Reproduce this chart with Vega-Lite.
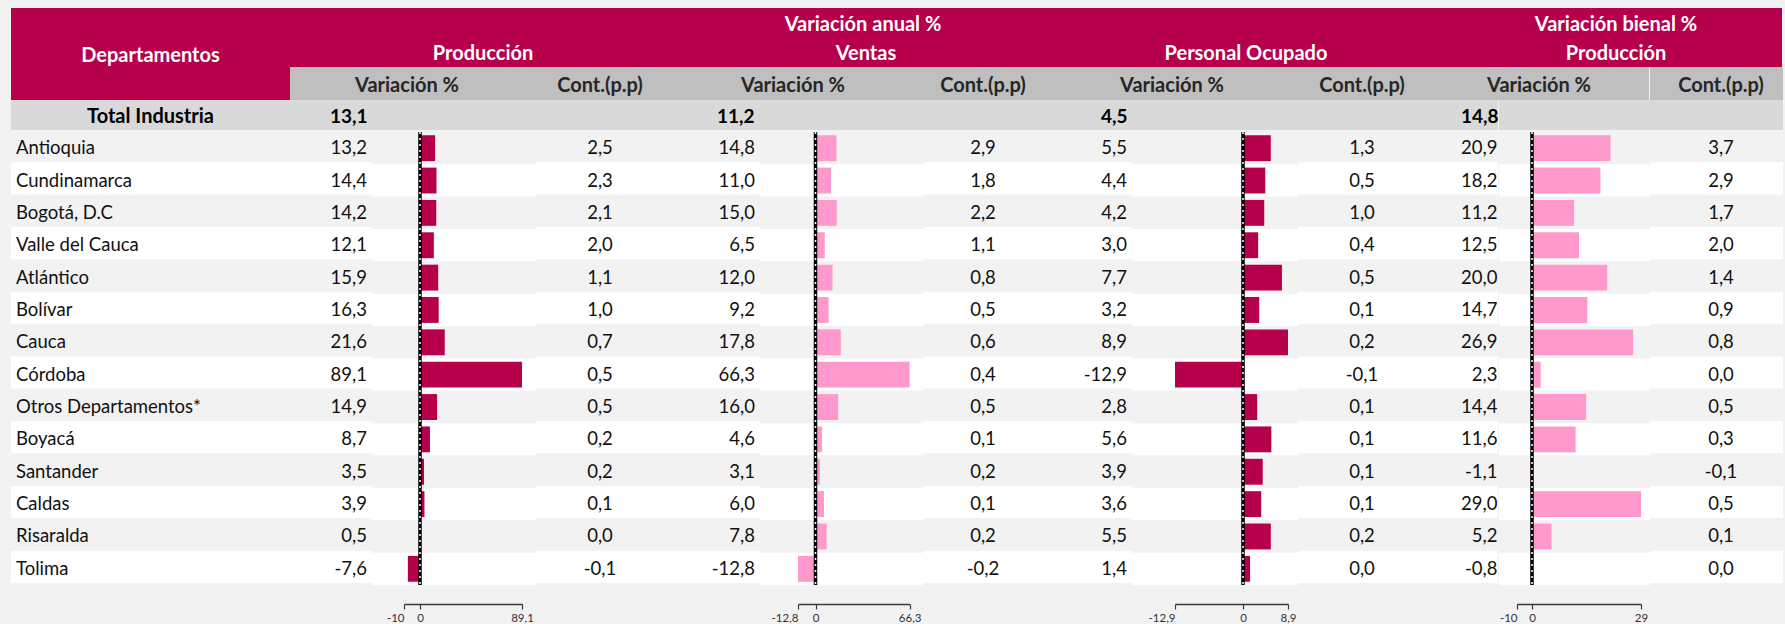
{
"$schema": "https://vega.github.io/schema/vega-lite/v6.json",
"background": "#F2F2F2",
"padding": {"left": 11, "top": 8, "right": 3, "bottom": 0},
"config": {
  "view": {"stroke": null},
  "concat": {"spacing": 0},
  "font": "Lato",
  "text": {"dy": 2},
  "axis": {"labelFontSize": 11.5, "labelAlign": {"condition": {"test": "datum.value < 0", "value": "right"}, "value": "center"}},
  "locale": {"number": {"decimal": ",", "thousands": ".", "grouping": [3], "currency": ["$", ""], "minus": "-"}}
},
"datasets": {
  "rows": [
    {"dep":"Antioquia","prod_v":13.2,"prod_c":2.5,"ven_v":14.8,"ven_c":2.9,"per_v":5.5,"per_c":1.3,"bie_v":20.9,"bie_c":3.7},
    {"dep":"Cundinamarca","prod_v":14.4,"prod_c":2.3,"ven_v":11.0,"ven_c":1.8,"per_v":4.4,"per_c":0.5,"bie_v":18.2,"bie_c":2.9},
    {"dep":"Bogotá, D.C","prod_v":14.2,"prod_c":2.1,"ven_v":15.0,"ven_c":2.2,"per_v":4.2,"per_c":1.0,"bie_v":11.2,"bie_c":1.7},
    {"dep":"Valle del Cauca","prod_v":12.1,"prod_c":2.0,"ven_v":6.5,"ven_c":1.1,"per_v":3.0,"per_c":0.4,"bie_v":12.5,"bie_c":2.0},
    {"dep":"Atlántico","prod_v":15.9,"prod_c":1.1,"ven_v":12.0,"ven_c":0.8,"per_v":7.7,"per_c":0.5,"bie_v":20.0,"bie_c":1.4},
    {"dep":"Bolívar","prod_v":16.3,"prod_c":1.0,"ven_v":9.2,"ven_c":0.5,"per_v":3.2,"per_c":0.1,"bie_v":14.7,"bie_c":0.9},
    {"dep":"Cauca","prod_v":21.6,"prod_c":0.7,"ven_v":17.8,"ven_c":0.6,"per_v":8.9,"per_c":0.2,"bie_v":26.9,"bie_c":0.8},
    {"dep":"Córdoba","prod_v":89.1,"prod_c":0.5,"ven_v":66.3,"ven_c":0.4,"per_v":-12.9,"per_c":-0.1,"bie_v":2.3,"bie_c":0.0},
    {"dep":"Otros Departamentos*","prod_v":14.9,"prod_c":0.5,"ven_v":16.0,"ven_c":0.5,"per_v":2.8,"per_c":0.1,"bie_v":14.4,"bie_c":0.5},
    {"dep":"Boyacá","prod_v":8.7,"prod_c":0.2,"ven_v":4.6,"ven_c":0.1,"per_v":5.6,"per_c":0.1,"bie_v":11.6,"bie_c":0.3},
    {"dep":"Santander","prod_v":3.5,"prod_c":0.2,"ven_v":3.1,"ven_c":0.2,"per_v":3.9,"per_c":0.1,"bie_v":-1.1,"bie_c":-0.1},
    {"dep":"Caldas","prod_v":3.9,"prod_c":0.1,"ven_v":6.0,"ven_c":0.1,"per_v":3.6,"per_c":0.1,"bie_v":29.0,"bie_c":0.5},
    {"dep":"Risaralda","prod_v":0.5,"prod_c":0.0,"ven_v":7.8,"ven_c":0.2,"per_v":5.5,"per_c":0.2,"bie_v":5.2,"bie_c":0.1},
    {"dep":"Tolima","prod_v":-7.6,"prod_c":-0.1,"ven_v":-12.8,"ven_c":-0.2,"per_v":1.4,"per_c":0.0,"bie_v":-0.8,"bie_c":0.0}
  ],
  "total": [{"dep":"Total Industria","prod_v":13.1,"ven_v":11.2,"per_v":4.5,"bie_v":14.8}]
},
"spacing": 0,
"hconcat": [
  {"spacing": 0, "vconcat": [
    {"width": 279, "height": 92, "view": {"fill": "#B6004B", "stroke": null}, "data": {"values": [{"t": "Departamentos"}]}, "mark": {"type": "text", "color": "#FFFFFF", "fontWeight": "bold", "fontSize": 20}, "encoding": {"text": {"field": "t"}}},
    {"width": 279, "height": 30, "view": {"fill": "#D9D9D9", "stroke": null}, "data": {"name": "total"}, "mark": {"type": "text", "color": "#000000", "fontWeight": "bold", "fontSize": 20}, "encoding": {"text": {"field": "dep"}}},
    {"width": 279, "height": 453, "data": {"name": "rows"}, "transform": [{"window": [{"op": "row_number", "as": "rn"}]}],
     "encoding": {"y": {"field": "dep", "type": "nominal", "sort": null, "axis": null, "scale": {"paddingInner": 0, "paddingOuter": 0}}},
     "layer": [
       {"mark": {"type": "rect"}, "encoding": {"fill": {"condition": {"test": "datum.rn % 2 == 1", "value": "#F2F2F2"}, "value": "#FFFFFF"}}},
       {"mark": {"type": "text", "align": "left", "dx": -134.5, "fontSize": 18.5, "color": "#111111"}, "encoding": {"text": {"field": "dep"}}}
     ]}
  ]},
  {"spacing": 0, "vconcat": [
    {"width": 1146, "height": 29, "view": {"fill": "#B6004B", "stroke": null}, "data": {"values": [{"t": "Variación anual %"}]}, "mark": {"type": "text", "color": "#FFFFFF", "fontWeight": "bold", "fontSize": 20}, "encoding": {"text": {"field": "t"}}},
    {"spacing": 0, "hconcat": [
      {"spacing": 0, "vconcat": [
        {"width": 386, "height": 30, "view": {"fill": "#B6004B", "stroke": null}, "data": {"values": [{"t": "Producción"}]}, "mark": {"type": "text", "color": "#FFFFFF", "fontWeight": "bold", "fontSize": 20}, "encoding": {"text": {"field": "t"}}},
        {"spacing": 0, "hconcat": [
          {"spacing": 0, "vconcat": [
            {"width": 246, "height": 33, "view": {"fill": "#BFBFBF", "stroke": null}, "data": {"values": [{"t": "Variación %"}]}, "mark": {"type": "text", "dx": -6, "color": "#262626", "fontWeight": "bold", "fontSize": 20}, "encoding": {"text": {"field": "t"}}},
            {"spacing": 0, "hconcat": [
              {"spacing": 0, "vconcat": [
                {"width": 82, "height": 30, "view": {"fill": "#D9D9D9", "stroke": null}, "data": {"name": "total"}, "mark": {"type": "text", "align": "left", "dx": -1, "color": "#000000", "fontWeight": "bold", "fontSize": 19}, "encoding": {"text": {"field": "prod_v", "type": "quantitative", "format": ".1f"}}},
                {"width": 82, "height": 453, "data": {"name": "rows"}, "transform": [{"window": [{"op": "row_number", "as": "rn"}]}],
                 "encoding": {"y": {"field": "dep", "type": "nominal", "sort": null, "axis": null, "scale": {"paddingInner": 0, "paddingOuter": 0}}},
                 "layer": [
                   {"mark": {"type": "rect"}, "encoding": {"fill": {"condition": {"test": "datum.rn % 2 == 1", "value": "#F2F2F2"}, "value": "#FFFFFF"}}},
                   {"mark": {"type": "text", "align": "right", "dx": 36, "fontSize": 18.5, "color": "#111111"}, "encoding": {"text": {"field": "prod_v", "type": "quantitative", "format": ".1f"}}}
                 ]}
              ]},
              {"spacing": 0, "vconcat": [
                {"width": 164, "height": 30, "view": {"fill": "#D9D9D9", "stroke": null}, "data": {"values": [{}]}, "mark": {"type": "text"}, "encoding": {"text": {"value": ""}}},
                {"width": 164, "height": 453, "data": {"name": "rows"}, "transform": [{"window": [{"op": "row_number", "as": "rn"}]}],
                 "layer": [
                   {"mark": {"type": "rect"}, "encoding": {"y": {"field": "dep", "type": "nominal", "sort": null, "axis": null, "scale": {"paddingInner": 0, "paddingOuter": 0}}, "fill": {"condition": {"test": "datum.rn % 2 == 1", "value": "#F2F2F2"}, "value": "#FFFFFF"}}},
                   {"mark": {"type": "bar", "color": "#B6004B", "height": {"band": 0.8}}, "encoding": {
                     "y": {"field": "dep", "type": "nominal", "sort": null, "axis": null},
                     "x": {"field": "prod_v", "type": "quantitative", "scale": {"domain": [-10, 0, 89.1], "range": [32, 48, 150], "nice": false, "zero": false},
                           "axis": {"values": [-10, 0, 89.1], "format": ".1~f", "title": null, "grid": false, "offset": 19, "tickSize": 5, "labelPadding": 3, "labelOverlap": false, "labelFlush": false, "domainColor": "#3A3A3A", "tickColor": "#3A3A3A", "labelColor": "#333333", "domainWidth": 1.5, "tickWidth": 1.2}},
                     "x2": {"datum": 0}}},
                   {"data": {"values": [{}]}, "mark": {"type": "rule", "color": "#000000", "strokeWidth": 3.5}, "encoding": {"x": {"datum": 0}}},
                   {"data": {"values": [{}]}, "mark": {"type": "rule", "color": "#FFFFFF", "strokeWidth": 1.5, "strokeDash": [2, 4]}, "encoding": {"x": {"datum": 0}}}
                 ]}
              ]}
            ]}
          ]},
          {"spacing": 0, "vconcat": [
            {"width": 140, "height": 33, "view": {"fill": "#BFBFBF", "stroke": null}, "data": {"values": [{"t": "Cont.(p.p)"}]}, "mark": {"type": "text", "dx": -6, "color": "#262626", "fontWeight": "bold", "fontSize": 20}, "encoding": {"text": {"field": "t"}}},
            {"width": 140, "height": 30, "view": {"fill": "#D9D9D9", "stroke": null}, "data": {"values": [{}]}, "mark": {"type": "text"}, "encoding": {"text": {"value": ""}}},
            {"width": 140, "height": 453, "data": {"name": "rows"}, "transform": [{"window": [{"op": "row_number", "as": "rn"}]}],
             "encoding": {"y": {"field": "dep", "type": "nominal", "sort": null, "axis": null, "scale": {"paddingInner": 0, "paddingOuter": 0}}},
             "layer": [
               {"mark": {"type": "rect"}, "encoding": {"fill": {"condition": {"test": "datum.rn % 2 == 1", "value": "#F2F2F2"}, "value": "#FFFFFF"}}},
               {"mark": {"type": "text", "dx": -6, "fontSize": 18.5, "color": "#111111"}, "encoding": {"text": {"field": "prod_c", "type": "quantitative", "format": ".1f"}}}
             ]}
          ]}
        ]}
      ]},
      {"spacing": 0, "vconcat": [
        {"width": 380, "height": 30, "view": {"fill": "#B6004B", "stroke": null}, "data": {"values": [{"t": "Ventas"}]}, "mark": {"type": "text", "color": "#FFFFFF", "fontWeight": "bold", "fontSize": 20}, "encoding": {"text": {"field": "t"}}},
        {"spacing": 0, "hconcat": [
          {"spacing": 0, "vconcat": [
            {"width": 247, "height": 33, "view": {"fill": "#BFBFBF", "stroke": null}, "data": {"values": [{"t": "Variación %"}]}, "mark": {"type": "text", "dx": -6.5, "color": "#262626", "fontWeight": "bold", "fontSize": 20}, "encoding": {"text": {"field": "t"}}},
            {"spacing": 0, "hconcat": [
              {"spacing": 0, "vconcat": [
                {"width": 84, "height": 30, "view": {"fill": "#D9D9D9", "stroke": null}, "data": {"name": "total"}, "mark": {"type": "text", "align": "left", "dx": -1, "color": "#000000", "fontWeight": "bold", "fontSize": 19}, "encoding": {"text": {"field": "ven_v", "type": "quantitative", "format": ".1f"}}},
                {"width": 84, "height": 453, "data": {"name": "rows"}, "transform": [{"window": [{"op": "row_number", "as": "rn"}]}],
                 "encoding": {"y": {"field": "dep", "type": "nominal", "sort": null, "axis": null, "scale": {"paddingInner": 0, "paddingOuter": 0}}},
                 "layer": [
                   {"mark": {"type": "rect"}, "encoding": {"fill": {"condition": {"test": "datum.rn % 2 == 1", "value": "#F2F2F2"}, "value": "#FFFFFF"}}},
                   {"mark": {"type": "text", "align": "right", "dx": 37, "fontSize": 18.5, "color": "#111111"}, "encoding": {"text": {"field": "ven_v", "type": "quantitative", "format": ".1f"}}}
                 ]}
              ]},
              {"spacing": 0, "vconcat": [
                {"width": 163, "height": 30, "view": {"fill": "#D9D9D9", "stroke": null}, "data": {"values": [{}]}, "mark": {"type": "text"}, "encoding": {"text": {"value": ""}}},
                {"width": 163, "height": 453, "data": {"name": "rows"}, "transform": [{"window": [{"op": "row_number", "as": "rn"}]}],
                 "layer": [
                   {"mark": {"type": "rect"}, "encoding": {"y": {"field": "dep", "type": "nominal", "sort": null, "axis": null, "scale": {"paddingInner": 0, "paddingOuter": 0}}, "fill": {"condition": {"test": "datum.rn % 2 == 1", "value": "#F2F2F2"}, "value": "#FFFFFF"}}},
                   {"mark": {"type": "bar", "color": "#FF99CC", "height": {"band": 0.8}}, "encoding": {
                     "y": {"field": "dep", "type": "nominal", "sort": null, "axis": null},
                     "x": {"field": "ven_v", "type": "quantitative", "scale": {"domain": [-12.8, 0, 66.3], "range": [38, 55.5, 149.6], "nice": false, "zero": false},
                           "axis": {"values": [-12.8, 0, 66.3], "format": ".1~f", "title": null, "grid": false, "offset": 19, "tickSize": 5, "labelPadding": 3, "labelOverlap": false, "labelFlush": false, "domainColor": "#3A3A3A", "tickColor": "#3A3A3A", "labelColor": "#333333", "domainWidth": 1.5, "tickWidth": 1.2}},
                     "x2": {"datum": 0}}},
                   {"data": {"values": [{}]}, "mark": {"type": "rule", "color": "#000000", "strokeWidth": 3.5}, "encoding": {"x": {"datum": 0}}},
                   {"data": {"values": [{}]}, "mark": {"type": "rule", "color": "#FFFFFF", "strokeWidth": 1.5, "strokeDash": [2, 4]}, "encoding": {"x": {"datum": 0}}}
                 ]}
              ]}
            ]}
          ]},
          {"spacing": 0, "vconcat": [
            {"width": 133, "height": 33, "view": {"fill": "#BFBFBF", "stroke": null}, "data": {"values": [{"t": "Cont.(p.p)"}]}, "mark": {"type": "text", "dx": -6.5, "color": "#262626", "fontWeight": "bold", "fontSize": 20}, "encoding": {"text": {"field": "t"}}},
            {"width": 133, "height": 30, "view": {"fill": "#D9D9D9", "stroke": null}, "data": {"values": [{}]}, "mark": {"type": "text"}, "encoding": {"text": {"value": ""}}},
            {"width": 133, "height": 453, "data": {"name": "rows"}, "transform": [{"window": [{"op": "row_number", "as": "rn"}]}],
             "encoding": {"y": {"field": "dep", "type": "nominal", "sort": null, "axis": null, "scale": {"paddingInner": 0, "paddingOuter": 0}}},
             "layer": [
               {"mark": {"type": "rect"}, "encoding": {"fill": {"condition": {"test": "datum.rn % 2 == 1", "value": "#F2F2F2"}, "value": "#FFFFFF"}}},
               {"mark": {"type": "text", "dx": -6.5, "fontSize": 18.5, "color": "#111111"}, "encoding": {"text": {"field": "ven_c", "type": "quantitative", "format": ".1f"}}}
             ]}
          ]}
        ]}
      ]},
      {"spacing": 0, "vconcat": [
        {"width": 380, "height": 30, "view": {"fill": "#B6004B", "stroke": null}, "data": {"values": [{"t": "Personal Ocupado"}]}, "mark": {"type": "text", "color": "#FFFFFF", "fontWeight": "bold", "fontSize": 20}, "encoding": {"text": {"field": "t"}}},
        {"spacing": 0, "hconcat": [
          {"spacing": 0, "vconcat": [
            {"width": 242, "height": 33, "view": {"fill": "#BFBFBF", "stroke": null}, "data": {"values": [{"t": "Variación %"}]}, "mark": {"type": "text", "dx": -5, "color": "#262626", "fontWeight": "bold", "fontSize": 20}, "encoding": {"text": {"field": "t"}}},
            {"spacing": 0, "hconcat": [
              {"spacing": 0, "vconcat": [
                {"width": 76, "height": 30, "view": {"fill": "#D9D9D9", "stroke": null}, "data": {"name": "total"}, "mark": {"type": "text", "align": "left", "dx": 7, "color": "#000000", "fontWeight": "bold", "fontSize": 19}, "encoding": {"text": {"field": "per_v", "type": "quantitative", "format": ".1f"}}},
                {"width": 76, "height": 453, "data": {"name": "rows"}, "transform": [{"window": [{"op": "row_number", "as": "rn"}]}],
                 "encoding": {"y": {"field": "dep", "type": "nominal", "sort": null, "axis": null, "scale": {"paddingInner": 0, "paddingOuter": 0}}},
                 "layer": [
                   {"mark": {"type": "rect"}, "encoding": {"fill": {"condition": {"test": "datum.rn % 2 == 1", "value": "#F2F2F2"}, "value": "#FFFFFF"}}},
                   {"mark": {"type": "text", "align": "right", "dx": 33, "fontSize": 18.5, "color": "#111111"}, "encoding": {"text": {"field": "per_v", "type": "quantitative", "format": ".1f"}}}
                 ]}
              ]},
              {"spacing": 0, "vconcat": [
                {"width": 166, "height": 30, "view": {"fill": "#D9D9D9", "stroke": null}, "data": {"values": [{}]}, "mark": {"type": "text"}, "encoding": {"text": {"value": ""}}},
                {"width": 166, "height": 453, "data": {"name": "rows"}, "transform": [{"window": [{"op": "row_number", "as": "rn"}]}],
                 "layer": [
                   {"mark": {"type": "rect"}, "encoding": {"y": {"field": "dep", "type": "nominal", "sort": null, "axis": null, "scale": {"paddingInner": 0, "paddingOuter": 0}}, "fill": {"condition": {"test": "datum.rn % 2 == 1", "value": "#F2F2F2"}, "value": "#FFFFFF"}}},
                   {"mark": {"type": "bar", "color": "#B6004B", "height": {"band": 0.8}}, "encoding": {
                     "y": {"field": "dep", "type": "nominal", "sort": null, "axis": null},
                     "x": {"field": "per_v", "type": "quantitative", "scale": {"domain": [-12.9, 0, 8.9], "range": [43, 111, 156], "nice": false, "zero": false},
                           "axis": {"values": [-12.9, 0, 8.9], "format": ".1~f", "title": null, "grid": false, "offset": 19, "tickSize": 5, "labelPadding": 3, "labelOverlap": false, "labelFlush": false, "domainColor": "#3A3A3A", "tickColor": "#3A3A3A", "labelColor": "#333333", "domainWidth": 1.5, "tickWidth": 1.2}},
                     "x2": {"datum": 0}}},
                   {"data": {"values": [{}]}, "mark": {"type": "rule", "color": "#000000", "strokeWidth": 3.5}, "encoding": {"x": {"datum": 0}}},
                   {"data": {"values": [{}]}, "mark": {"type": "rule", "color": "#FFFFFF", "strokeWidth": 1.5, "strokeDash": [2, 4]}, "encoding": {"x": {"datum": 0}}}
                 ]}
              ]}
            ]}
          ]},
          {"spacing": 0, "vconcat": [
            {"width": 138, "height": 33, "view": {"fill": "#BFBFBF", "stroke": null}, "data": {"values": [{"t": "Cont.(p.p)"}]}, "mark": {"type": "text", "dx": -5, "color": "#262626", "fontWeight": "bold", "fontSize": 20}, "encoding": {"text": {"field": "t"}}},
            {"width": 138, "height": 30, "view": {"fill": "#D9D9D9", "stroke": null}, "data": {"values": [{}]}, "mark": {"type": "text"}, "encoding": {"text": {"value": ""}}},
            {"width": 138, "height": 453, "data": {"name": "rows"}, "transform": [{"window": [{"op": "row_number", "as": "rn"}]}],
             "encoding": {"y": {"field": "dep", "type": "nominal", "sort": null, "axis": null, "scale": {"paddingInner": 0, "paddingOuter": 0}}},
             "layer": [
               {"mark": {"type": "rect"}, "encoding": {"fill": {"condition": {"test": "datum.rn % 2 == 1", "value": "#F2F2F2"}, "value": "#FFFFFF"}}},
               {"mark": {"type": "text", "dx": -5, "fontSize": 18.5, "color": "#111111"}, "encoding": {"text": {"field": "per_c", "type": "quantitative", "format": ".1f"}}}
             ]}
          ]}
        ]}
      ]}
    ]}
  ]},
  {"spacing": 0, "vconcat": [
    {"width": 346, "height": 29, "view": {"fill": "#B6004B", "stroke": null}, "data": {"values": [{"t": "Variación bienal %"}]}, "mark": {"type": "text", "dx": 7, "color": "#FFFFFF", "fontWeight": "bold", "fontSize": 20}, "encoding": {"text": {"field": "t"}}},
    {"width": 346, "height": 30, "view": {"fill": "#B6004B", "stroke": null}, "data": {"values": [{"t": "Producción"}]}, "mark": {"type": "text", "dx": 7, "color": "#FFFFFF", "fontWeight": "bold", "fontSize": 20}, "encoding": {"text": {"field": "t"}}},
    {"spacing": 0, "hconcat": [
      {"spacing": 0, "vconcat": [
        {"width": 213, "height": 33, "view": {"fill": "#BFBFBF", "stroke": null}, "data": {"values": [{"t": "Variación %"}]}, "mark": {"type": "text", "dx": -3.5, "color": "#262626", "fontWeight": "bold", "fontSize": 20}, "encoding": {"text": {"field": "t"}}},
        {"spacing": 0, "hconcat": [
          {"spacing": 0, "vconcat": [
            {"width": 62, "height": 30, "view": {"fill": "#D9D9D9", "stroke": null}, "data": {"name": "total"}, "mark": {"type": "text", "align": "left", "dx": -6, "color": "#000000", "fontWeight": "bold", "fontSize": 19}, "encoding": {"text": {"field": "bie_v", "type": "quantitative", "format": ".1f"}}},
            {"width": 62, "height": 453, "data": {"name": "rows"}, "transform": [{"window": [{"op": "row_number", "as": "rn"}]}],
             "encoding": {"y": {"field": "dep", "type": "nominal", "sort": null, "axis": null, "scale": {"paddingInner": 0, "paddingOuter": 0}}},
             "layer": [
               {"mark": {"type": "rect"}, "encoding": {"fill": {"condition": {"test": "datum.rn % 2 == 1", "value": "#F2F2F2"}, "value": "#FFFFFF"}}},
               {"mark": {"type": "text", "align": "right", "dx": 30.5, "fontSize": 18.5, "color": "#111111"}, "encoding": {"text": {"field": "bie_v", "type": "quantitative", "format": ".1f"}}}
             ]}
          ]},
          {"spacing": 0, "vconcat": [
            {"width": 151, "height": 30, "view": {"fill": "#D9D9D9", "stroke": null}, "data": {"values": [{}]}, "mark": {"type": "text"}, "encoding": {"text": {"value": ""}}},
            {"width": 151, "height": 453, "data": {"name": "rows"}, "transform": [{"window": [{"op": "row_number", "as": "rn"}]}],
             "layer": [
               {"mark": {"type": "rect"}, "encoding": {"y": {"field": "dep", "type": "nominal", "sort": null, "axis": null, "scale": {"paddingInner": 0, "paddingOuter": 0}}, "fill": {"condition": {"test": "datum.rn % 2 == 1", "value": "#F2F2F2"}, "value": "#FFFFFF"}}},
               {"mark": {"type": "bar", "color": "#FF99CC", "height": {"band": 0.8}}, "encoding": {
                 "y": {"field": "dep", "type": "nominal", "sort": null, "axis": null},
                 "x": {"field": "bie_v", "type": "quantitative", "scale": {"domain": [-10, 0, 29], "range": [18, 33, 142], "nice": false, "zero": false},
                       "axis": {"values": [-10, 0, 29], "format": ".1~f", "title": null, "grid": false, "offset": 19, "tickSize": 5, "labelPadding": 3, "labelOverlap": false, "labelFlush": false, "domainColor": "#3A3A3A", "tickColor": "#3A3A3A", "labelColor": "#333333", "domainWidth": 1.5, "tickWidth": 1.2}},
                 "x2": {"datum": 0}}},
               {"data": {"values": [{}]}, "mark": {"type": "rule", "color": "#000000", "strokeWidth": 3.5}, "encoding": {"x": {"datum": 0}}},
               {"data": {"values": [{}]}, "mark": {"type": "rule", "color": "#FFFFFF", "strokeWidth": 1.5, "strokeDash": [2, 4]}, "encoding": {"x": {"datum": 0}}}
             ]}
          ]}
        ]}
      ]},
      {"spacing": 0, "vconcat": [
        {"width": 133, "height": 33, "view": {"fill": "#BFBFBF", "stroke": null}, "data": {"values": [{"t": "Cont.(p.p)"}]}, "mark": {"type": "text", "dx": 4.5, "color": "#262626", "fontWeight": "bold", "fontSize": 20}, "encoding": {"text": {"field": "t"}}},
        {"width": 133, "height": 30, "view": {"fill": "#D9D9D9", "stroke": null}, "data": {"values": [{}]}, "mark": {"type": "text"}, "encoding": {"text": {"value": ""}}},
        {"width": 133, "height": 453, "data": {"name": "rows"}, "transform": [{"window": [{"op": "row_number", "as": "rn"}]}],
         "encoding": {"y": {"field": "dep", "type": "nominal", "sort": null, "axis": null, "scale": {"paddingInner": 0, "paddingOuter": 0}}},
         "layer": [
           {"mark": {"type": "rect"}, "encoding": {"fill": {"condition": {"test": "datum.rn % 2 == 1", "value": "#F2F2F2"}, "value": "#FFFFFF"}}},
           {"mark": {"type": "text", "dx": 4.5, "fontSize": 18.5, "color": "#111111"}, "encoding": {"text": {"field": "bie_c", "type": "quantitative", "format": ".1f"}}}
         ]}
      ]}
    ]}
  ]}
]
}
